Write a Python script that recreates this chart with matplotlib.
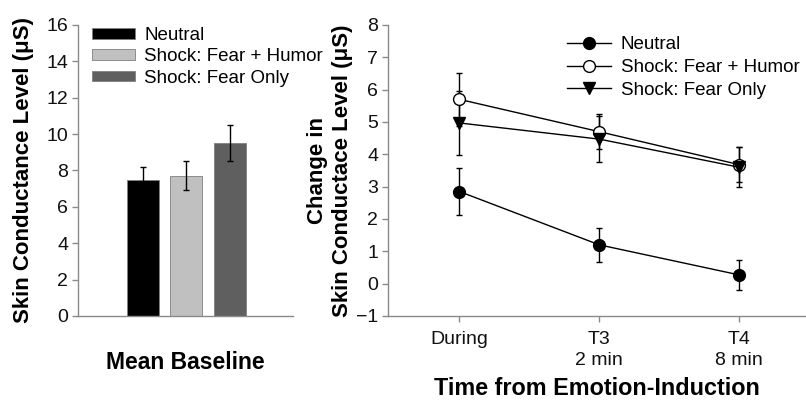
import matplotlib.pyplot as plt
from matplotlib.lines import Line2D

plt.rcParams['font.family'] = ['Liberation Sans', 'DejaVu Sans']

groups = ['Neutral', 'Shock: Fear + Humor', 'Shock: Fear Only']
baseline = [7.5, 7.7, 9.5]
baseline_err = [0.7, 0.8, 1.0]

times = ['During', 'T3\n2 min', 'T4\n8 min']
change = {
    'Neutral': [2.85, 1.2, 0.27],
    'Shock: Fear + Humor': [5.7, 4.7, 3.68],
    'Shock: Fear Only': [4.97, 4.47, 3.6],
}
change_err = {
    'Neutral': [0.72, 0.53, 0.47],
    'Shock: Fear + Humor': [0.82, 0.55, 0.55],
    'Shock: Fear Only': [1.0, 0.72, 0.62],
}

bar_colors = ['#000000', '#c0c0c0', '#5f5f5f']
spine_col = '#8a8a8a'
tick_fs = 14
lab_fs = 16.5
leg_fs = 13.5

fig = plt.figure(figsize=(8.06, 4.01), dpi=100)
ax1 = fig.add_axes([0.0968, 0.212, 0.2667, 0.7257])
ax2 = fig.add_axes([0.4814, 0.212, 0.5174, 0.7257])

for ax in (ax1, ax2):
    for s in ('top', 'right'):
        ax.spines[s].set_visible(False)
    for s in ('left', 'bottom'):
        ax.spines[s].set_color(spine_col)
        ax.spines[s].set_linewidth(1.0)
    ax.tick_params(colors=spine_col, labelcolor='#111111', labelsize=tick_fs,
                   length=4, width=1, pad=3)

# left: baseline bars
xs = range(len(groups))
for i in xs:
    ax1.bar(i, baseline[i], width=0.74, color=bar_colors[i],
            edgecolor='#808080', linewidth=0.6, label=groups[i])
ax1.errorbar(list(xs), baseline, yerr=baseline_err, fmt='none',
             ecolor='black', elinewidth=1, capsize=2.5, capthick=1)
ax1.set_xlim(-1.49, 3.46)
ax1.set_ylim(0, 16)
ax1.set_yticks(range(0, 17, 2))
ax1.set_xticks([])
ax1.set_ylabel('Skin Conductance Level (μS)', fontsize=16,
               fontweight='bold', labelpad=9)
ax1.set_xlabel('Mean Baseline', fontsize=lab_fs, fontweight='bold', labelpad=25)
ax1.legend(loc='upper left', bbox_to_anchor=(0.065, 0.993), frameon=False,
           fontsize=leg_fs, handlelength=2.3, handleheight=0.5,
           handletextpad=0.5, labelspacing=0.23, borderpad=0,
           borderaxespad=0)

# right: change over time
markers = {'Neutral': ('o', 'black'),
           'Shock: Fear + Humor': ('o', 'white'),
           'Shock: Fear Only': ('v', 'black')}
tx = range(len(times))
handles = []
for g in groups:
    m, fc = markers[g]
    ax2.errorbar(list(tx), change[g], yerr=change_err[g], color='black',
                 marker=m, markersize=8.5, markerfacecolor=fc,
                 markeredgecolor='black', linewidth=1, elinewidth=1,
                 capsize=2.5, capthick=1)
    handles.append(Line2D([], [], color='black', marker=m, markersize=8.5,
                          markerfacecolor=fc, markeredgecolor='black',
                          linewidth=1, label=g))
ax2.set_xlim(-0.51, 2.47)
ax2.set_ylim(-1, 8)
ax2.set_yticks(range(-1, 9))
ax2.set_xticks(list(tx))
ax2.set_xticklabels(times, linespacing=1.25)
ax2.tick_params(axis='x', pad=7)
ax2.set_ylabel('Change in\nSkin Conductace Level (μS)', fontsize=16,
               fontweight='bold', labelpad=2, linespacing=1.25)
ax2.set_xlabel('Time from Emotion-Induction', fontsize=lab_fs + 0.3,
               fontweight='bold', labelpad=6)
ax2.legend(handles=handles, loc='upper left', bbox_to_anchor=(0.43, 0.961),
           frameon=False, fontsize=leg_fs, handlelength=2.35,
           handletextpad=0.5, labelspacing=0.3, borderpad=0,
           borderaxespad=0)

fig.savefig('out.png', dpi=100)
